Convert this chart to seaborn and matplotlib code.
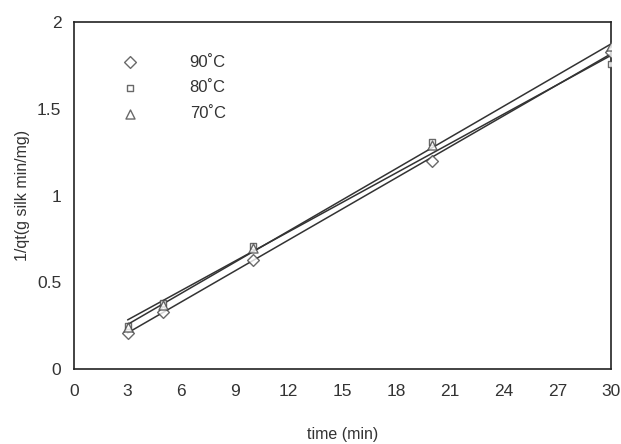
import numpy as np
import pandas as pd
import matplotlib
matplotlib.use("Agg")
import matplotlib.pyplot as plt
import seaborn as sns

# Data
time_min = [3, 5, 10, 20, 30]
inv_qt_90 = [0.21, 0.33, 0.63, 1.20, 1.83]
inv_qt_80 = [0.25, 0.38, 0.71, 1.31, 1.76]
inv_qt_70 = [0.24, 0.37, 0.70, 1.29, 1.86]
labels = ["90\u02daC", "80\u02daC", "70\u02daC"]

df = pd.DataFrame({
    "time": time_min * 3,
    "inv_qt": inv_qt_90 + inv_qt_80 + inv_qt_70,
    "temp": [labels[0]] * 5 + [labels[1]] * 5 + [labels[2]] * 5,
})

sns.set_style("white")
plt.rcParams["font.family"] = ["Liberation Sans", "DejaVu Sans"]

fig = plt.figure(figsize=(6.21, 4.44), dpi=100)
ax = fig.add_axes([0.119, 0.169, 0.865, 0.781])

markers = ["D", "s", "^"]
sizes = [6, 5, 6.5]
for lab, m, s in zip(labels, markers, sizes):
    sub = df[df["temp"] == lab]
    sns.regplot(data=sub, x="time", y="inv_qt", ci=None, ax=ax,
                marker=m, label=lab,
                scatter_kws=dict(s=s ** 2, facecolors="white", edgecolors="#444444",
                                 linewidths=1.0, zorder=3),
                line_kws=dict(color="#333333", lw=1.1, zorder=2))

ax.set_xlim(0, 30)
ax.set_ylim(0, 2)
ax.set_xticks(np.arange(0, 31, 3))
ax.set_yticks([0, 0.5, 1, 1.5, 2])
ax.set_yticklabels(["0", "0.5", "1", "1.5", "2"])
ax.tick_params(direction="in", length=4, width=1, colors="#222222",
               labelsize=12.5, labelcolor="#333333")
ax.tick_params(axis="x", pad=11)
ax.tick_params(axis="y", pad=9)
for sp in ax.spines.values():
    sp.set_color("#222222")
    sp.set_linewidth(1.2)

ax.set_xlabel("time (min)", fontsize=11.5, color="#333333", labelpad=20)
ax.set_ylabel("1/qt(g silk min/mg)", fontsize=11.5, color="#333333", labelpad=5)

handles, labs = ax.get_legend_handles_labels()
ax.legend(handles[:3], labs[:3], loc="upper left", bbox_to_anchor=(0.045, 0.95),
          frameon=False, handletextpad=2.6, labelspacing=0.65, fontsize=12,
          labelcolor="#333333")

fig.savefig("out.png", dpi=100)
